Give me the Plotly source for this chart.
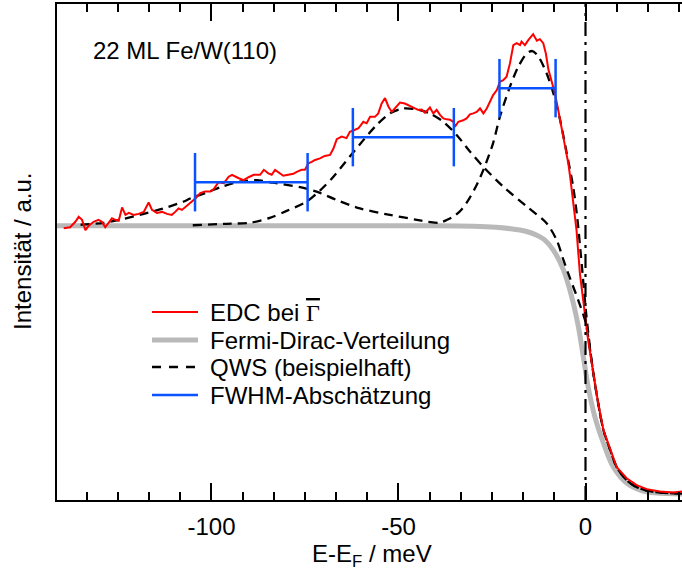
import plotly.graph_objects as go

# ---------------- data ----------------
# EDC (red), energy in meV, intensity in arbitrary units
edc_e = [-139.5, -137.8, -136.4, -135.5, -134.6, -133.7, -132.8, -131.5, -130.2, -129.3,
         -128.4, -127.5, -126.6, -125.7, -124.8, -123.9, -123.0, -122.1, -120.8, -119.5,
         -118.1, -116.8, -115.9, -114.6, -113.2, -111.9, -110.6, -109.7, -108.8, -107.9,
         -106.6, -105.2, -104.3, -103.0, -101.7, -100.3, -99.4, -98.1, -96.7, -95.4,
         -94.5, -92.7, -91.4, -90.1, -88.7, -87.0, -86.0, -84.8, -83.9, -83.0,
         -81.7, -80.8, -79.5, -78.1, -77.2, -75.9, -75.0, -74.1, -73.2, -72.3,
         -71.0, -69.7, -68.3, -67.4, -66.5, -65.2, -63.9, -63.0, -61.9, -60.7,
         -59.4, -58.5, -57.6, -56.3, -55.4, -54.5, -53.6, -52.7, -51.8, -50.9,
         -49.6, -48.3, -46.9, -45.6, -44.7, -43.8, -42.9, -41.6, -40.7, -39.8,
         -38.9, -38.0, -37.1, -36.2, -35.3, -34.9, -34.0, -32.7, -31.8, -30.9,
         -30.0, -29.1, -28.2, -27.3, -26.4, -25.5, -24.7, -23.7, -22.9, -22.0,
         -21.1, -20.2, -19.3, -18.4, -17.5, -17.1, -16.2, -15.3, -14.4, -14.0,
         -13.0, -12.2, -11.3, -10.6, -9.9, -9.0, -8.2, -7.3, -6.4, -5.5,
         -4.6, -4.1, -3.3, -2.4, -1.5, -0.1, 0.7, 2.1, 3.4, 4.8,
         6.6, 8.3, 11.0, 13.7, 16.4, 19.9, 23.5, 25.8]
edc_i = [54.9, 55.1, 56.2, 57.2, 56.6, 54.5, 55.4, 56.2, 56.6, 56.2,
         55.1, 55.9, 56.9, 56.6, 56.4, 59.1, 57.6, 58.0, 57.6, 57.8,
         58.2, 60.1, 58.6, 58.0, 58.2, 57.8, 57.6, 58.2, 58.9, 58.6,
         59.4, 60.4, 60.9, 62.0, 62.3, 62.3, 62.8, 64.2, 64.0, 65.3,
         65.7, 65.0, 64.6, 65.2, 65.7, 65.7, 66.7, 66.0, 65.7, 66.7,
         66.0, 65.5, 65.7, 65.9, 66.3, 66.7, 66.7, 68.0, 68.3, 68.7,
         69.0, 69.5, 69.7, 71.0, 72.9, 73.4, 73.1, 74.4, 74.7, 75.1,
         76.4, 76.1, 77.4, 77.4, 78.1, 80.1, 81.2, 79.5, 78.4, 79.1,
         80.3, 80.1, 79.5, 79.1, 78.8, 78.9, 78.2, 79.3, 78.1, 78.8,
         77.8, 77.1, 76.9, 76.8, 76.4, 75.4, 76.4, 76.7, 77.1, 77.9,
         78.1, 78.4, 79.1, 78.1, 79.1, 80.5, 81.8, 82.8, 84.5, 84.8,
         85.5, 88.2, 91.9, 92.3, 91.9, 92.6, 91.9, 92.9, 93.9, 94.1,
         92.8, 93.1, 92.3, 90.2, 86.9, 84.2, 82.2, 78.8, 75.4, 71.4,
         68.0, 65.3, 59.9, 54.5, 45.8, 37.7, 32.3, 25.6, 19.5, 14.1,
         10.1, 6.7, 4.4, 3.0, 2.2, 1.7, 1.5, 1.7]

# Fermi-Dirac distribution (grey)
fd_e = [-141.3, -40.0, -30.0, -24.0, -20.0, -16.0, -13.0, -11.0, -8.6, -5.9,
        -3.7, -1.9, -0.6, 0.7, 2.5, 4.8, 7.4, 11.0, 14.6, 19.0, 25.8]
fd_i = [55.4, 55.4, 55.3, 55.1, 54.8, 54.3, 53.5, 52.6, 50.5, 46.5,
        41.1, 35.0, 29.0, 22.9, 16.8, 11.5, 6.7, 3.4, 2.0, 1.4, 1.2]

# QWS example curve 1 (peaks near -88 and -14 meV)
qws1_e = [-135.0, -128.8, -123.5, -118.1, -112.8, -107.4, -105.7, -101.0, -96.8, -92.4,
          -88.0, -83.5, -76.3, -71.9, -66.5, -60.3, -52.3, -45.1, -42.0, -39.0,
          -37.0, -35.0, -33.0, -31.0, -29.0, -27.3, -24.7, -22.9, -20.2, -18.0,
          -15.7, -14.2, -12.6, -10.4, -8.6, -6.8, -5.0, -3.3, -2.2, -1.0,
          0.2, 1.4, 2.1, 3.4, 4.8, 6.6, 8.3, 11.0, 13.7, 16.4, 20.0, 25.8]
qws1_i = [55.6, 56.0, 56.8, 57.8, 58.9, 60.3, 60.9, 62.2, 63.4, 64.3,
          64.6, 64.1, 63.2, 62.3, 60.6, 58.9, 57.6, 56.6, 56.2, 56.0,
          56.6, 57.4, 58.8, 61.0, 63.8, 66.7, 72.1, 77.4, 83.5, 87.5,
          90.2, 90.7, 89.6, 86.2, 82.2, 76.8, 70.0, 63.3, 57.0, 47.5,
          37.5, 29.5, 25.6, 19.5, 14.1, 10.1, 6.7, 4.0, 2.6, 1.9, 1.5, 1.3]

# QWS example curve 2 (peak near -48 meV)
qws2_e = [-105.0, -96.0, -89.7, -84.4, -79.9, -74.5, -71.0, -67.4, -63.0, -59.4,
          -55.8, -52.3, -48.7, -45.1, -41.6, -38.0, -34.4, -30.9, -27.3, -22.0,
          -15.7, -10.4, -7.7, -5.9, -4.0, -2.0, 0.0, 1.0, 2.1, 3.4,
          4.8, 6.6, 8.3, 11.0, 13.7, 16.4, 20.0, 25.8]
qws2_i = [55.5, 55.8, 56.0, 57.0, 58.4, 60.3, 62.5, 65.3, 69.4, 72.7,
          75.8, 78.1, 79.1, 78.9, 78.1, 76.4, 73.7, 70.4, 67.3, 63.3,
          59.3, 55.9, 52.5, 48.5, 44.5, 40.5, 36.0, 31.5, 25.6, 19.5,
          14.1, 10.1, 6.7, 4.0, 2.6, 1.9, 1.5, 1.3]

# FWHM estimates
fwhm_left = [-104.4, -62.2, -23.0]
fwhm_right = [-74.3, -35.2, -8.0]
fwhm_level = [64.2, 73.3, 83.2]

# axis
x_range = [-141.3, 25.8]
y_range = [0, 100.2]
x_tickvals = [-100, -50, 0]
x_ticktext = ["-100", "-50", "0"]

# ---------------- styles ----------------
RED = "#ff0000"
GREY = "#b9b9b9"
BLUE = "#0a52ff"
FONT = "Liberation Sans, Arial, sans-serif"
FS = 24
CAP = 5.9  # half height of the FWHM end caps (in y units)
QDASH = "9px,6px"

fig = go.Figure()

fig.add_trace(go.Scatter(x=fd_e, y=fd_i, mode="lines",
                         line=dict(color=GREY, width=5, shape="spline", smoothing=0.8),
                         showlegend=False, hoverinfo="skip"))
for xe, yi in ((qws1_e, qws1_i), (qws2_e, qws2_i)):
    fig.add_trace(go.Scatter(x=xe, y=yi, mode="lines",
                             line=dict(color="black", width=2.3, dash=QDASH,
                                       shape="spline", smoothing=0.8),
                             showlegend=False, hoverinfo="skip"))
fig.add_trace(go.Scatter(x=edc_e, y=edc_i, mode="lines",
                         line=dict(color=RED, width=2),
                         showlegend=False, hoverinfo="skip"))

# FWHM bars built from the arrays
bx, by = [], []
for l, r, h in zip(fwhm_left, fwhm_right, fwhm_level):
    bx += [l, r, None, l, l, None, r, r, None]
    by += [h, h, None, h - CAP, h + CAP, None, h - CAP, h + CAP, None]
fig.add_trace(go.Scatter(x=bx, y=by, mode="lines",
                         line=dict(color=BLUE, width=2.5),
                         showlegend=False, hoverinfo="skip"))

# Fermi level line
fig.add_trace(go.Scatter(x=[0, 0], y=y_range, mode="lines",
                         line=dict(color="black", width=2.2, dash="14px,6px,3px,6px"),
                         showlegend=False, hoverinfo="skip"))

# ---------------- manual legend ----------------
L, R_, T, B = 57, 682, 4, 500
W, H = R_ - L, B - T


def px(x):
    return (x - L) / W


def py(y):
    return (B - y) / H


legend_items = [
    ("EDC bei <span style='font-family:Liberation Serif;text-decoration:overline'>\u0393</span>",
     dict(color=RED, width=2)),
    ("Fermi-Dirac-Verteilung", dict(color=GREY, width=5)),
    ("QWS (beispielhaft)", dict(color="black", width=2.3, dash="9px,8px")),
    ("FWHM-Abschätzung", dict(color=BLUE, width=2.5)),
]
legend_y = [312, 340, 367, 395]
for (txt, ln), yy in zip(legend_items, legend_y):
    fig.add_shape(type="line", xref="paper", yref="paper",
                  x0=px(152), x1=px(198), y0=py(yy), y1=py(yy), line=ln)
    fig.add_annotation(text=txt, xref="paper", yref="paper", x=px(208), y=py(yy),
                       xanchor="left", yanchor="middle", showarrow=False,
                       font=dict(family=FONT, size=FS, color="black"))

fig.add_annotation(text="22 ML Fe/W(110)", xref="paper", yref="paper",
                   x=px(91), y=py(50), xanchor="left", yanchor="middle", showarrow=False,
                   font=dict(family=FONT, size=FS, color="black"))
fig.add_annotation(text="Intensität / a.u.", xref="paper", yref="paper",
                   x=px(22), y=py(252), xanchor="center", yanchor="middle",
                   textangle=-90, showarrow=False,
                   font=dict(family=FONT, size=FS, color="black"))
fig.add_annotation(text="E-E<sub>F</sub> / meV", xref="paper", yref="paper",
                   x=px(372), y=py(538), xanchor="center", yanchor="top",
                   showarrow=False, font=dict(family=FONT, size=FS, color="black"))

fig.update_layout(
    width=682, height=581,
    margin=dict(l=L, r=682 - R_, t=T, b=581 - B, pad=0),
    plot_bgcolor="white", paper_bgcolor="white",
    font=dict(family=FONT, size=FS, color="black"),
    showlegend=False,
)
fig.update_xaxes(range=x_range, showgrid=False, zeroline=False,
                 showline=True, linecolor="black", linewidth=2, mirror="ticks",
                 ticks="inside", ticklen=17, tickwidth=2, tickcolor="black",
                 tickvals=x_tickvals, ticktext=x_ticktext, ticklabelstandoff=4,
                 tickfont=dict(family=FONT, size=FS, color="black"),
                 minor=dict(dtick=50 / 6, tick0=0, ticks="inside", ticklen=8,
                            tickwidth=2, tickcolor="black", showgrid=False))
fig.update_yaxes(range=y_range, showgrid=False, zeroline=False,
                 showline=True, linecolor="black", linewidth=2, mirror=False,
                 ticks="", showticklabels=False)

fig.write_html("out.html")
